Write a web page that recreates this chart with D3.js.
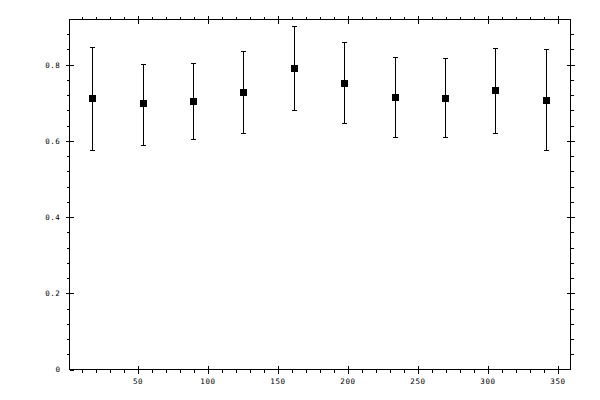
<!DOCTYPE html>
<html>
<head>
<meta charset="utf-8">
<script src="https://cdn.jsdelivr.net/npm/d3@7"></script>
<style>
  body { margin: 0; background: #fff; }
  svg { display: block; }
  .axis text { font-family: "DejaVu Sans Mono", monospace; font-size: 7.5px; fill: #000; letter-spacing: 0.6px; }
  .axis line { stroke: #000; shape-rendering: crispEdges; }
  .axis path { display: none; }
</style>
</head>
<body>
<svg width="600" height="400"></svg>
<script>
const xValues = [18, 54, 90, 126, 162, 198, 234, 270, 306, 342];
const means = [0.711, 0.697, 0.704, 0.727, 0.790, 0.751, 0.714, 0.712, 0.732, 0.706];
const upper = [0.846, 0.801, 0.804, 0.835, 0.900, 0.858, 0.819, 0.815, 0.843, 0.840];
const lower = [0.575, 0.589, 0.604, 0.620, 0.680, 0.646, 0.609, 0.609, 0.620, 0.574];
const xMajor = [50, 100, 150, 200, 250, 300, 350];
const xMinor = d3.range(10, 360, 10);
const yMajor = [0, 0.2, 0.4, 0.6, 0.8];
const yMinor = d3.range(0, 0.92, 0.04);

const svg = d3.select("svg");
const plotLeft = 69, plotRight = 570, plotTop = 19, plotBottom = 369;

const x = d3.scaleLinear()
  .domain([(plotLeft - 67) / 1.4, (plotRight - 67) / 1.4])
  .range([plotLeft, plotRight]);
const y = d3.scaleLinear()
  .domain([0, (plotBottom - plotTop) / 381])
  .range([plotBottom, plotTop]);

const fmtY = (d) => (d === 0 ? "0" : d3.format(".1f")(d));

// frame
svg.append("rect")
  .attr("x", plotLeft + 0.5).attr("y", plotTop + 0.5)
  .attr("width", plotRight - plotLeft).attr("height", plotBottom - plotTop)
  .attr("fill", "none").attr("stroke", "#000")
  .attr("shape-rendering", "crispEdges");

const addAxis = (axis, tx, ty) =>
  svg.append("g").attr("class", "axis")
    .attr("transform", "translate(" + tx + "," + ty + ")")
    .call(axis);

// bottom
addAxis(d3.axisBottom(x).tickValues(xMinor).tickSize(3).tickFormat(""), 0.5, plotBottom + 0.5);
addAxis(d3.axisBottom(x).tickValues(xMajor).tickSize(4).tickPadding(5).tickFormat(d3.format("d")), 0.5, plotBottom + 0.5);
addAxis(d3.axisBottom(x).tickValues(xMajor).tickSize(-4).tickFormat(""), 0.5, plotBottom + 0.5);
// top
addAxis(d3.axisTop(x).tickValues(xMinor).tickSize(3).tickFormat(""), 0.5, plotTop + 0.5);
addAxis(d3.axisTop(x).tickValues(xMajor).tickSize(4).tickFormat(""), 0.5, plotTop + 0.5);
addAxis(d3.axisTop(x).tickValues(xMajor).tickSize(-4).tickFormat(""), 0.5, plotTop + 0.5);
// left
addAxis(d3.axisLeft(y).tickValues(yMinor.slice(1)).tickSize(3).tickFormat(""), plotLeft + 0.5, 0.5);
addAxis(d3.axisLeft(y).tickValues(yMajor.slice(1)).tickSize(4).tickFormat(""), plotLeft + 0.5, 0.5);
addAxis(d3.axisLeft(y).tickValues(yMajor).tickSize(-4).tickPadding(9).tickFormat(fmtY), plotLeft + 0.5, 0.5);
// right
addAxis(d3.axisRight(y).tickValues(yMinor.slice(1)).tickSize(3).tickFormat(""), plotRight + 0.5, 0.5);
addAxis(d3.axisRight(y).tickValues(yMajor.slice(1)).tickSize(4).tickFormat(""), plotRight + 0.5, 0.5);
addAxis(d3.axisRight(y).tickValues(yMajor.slice(1)).tickSize(-4).tickFormat(""), plotRight + 0.5, 0.5);

// error bars
const pts = xValues.map((v, i) => ({ x: v, m: means[i], hi: upper[i], lo: lower[i] }));
const g = svg.append("g").attr("shape-rendering", "crispEdges");

g.selectAll(".bar").data(pts).enter().append("line")
  .attr("x1", (d) => Math.round(x(d.x)) + 0.5).attr("x2", (d) => Math.round(x(d.x)) + 0.5)
  .attr("y1", (d) => y(d.hi)).attr("y2", (d) => y(d.lo))
  .attr("stroke", "#000");

["hi", "lo"].forEach((k) => {
  g.selectAll(".cap-" + k).data(pts).enter().append("line")
    .attr("x1", (d) => Math.round(x(d.x)) - 2).attr("x2", (d) => Math.round(x(d.x)) + 3)
    .attr("y1", (d) => Math.round(y(d[k])) + 0.5).attr("y2", (d) => Math.round(y(d[k])) + 0.5)
    .attr("stroke", "#000");
});

g.selectAll(".pt").data(pts).enter().append("rect")
  .attr("x", (d) => Math.round(x(d.x)) - 3)
  .attr("y", (d) => Math.round(y(d.m)) - 3)
  .attr("width", 7).attr("height", 7)
  .attr("fill", "#000");
</script>
</body>
</html>
